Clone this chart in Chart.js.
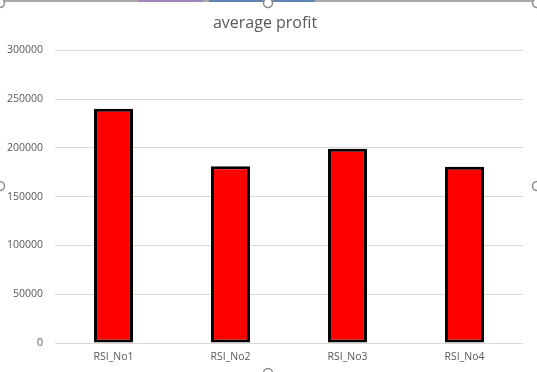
<!DOCTYPE html>
<html>
<head>
<meta charset="utf-8">
<script src="https://cdn.jsdelivr.net/npm/chart.js@4/dist/chart.umd.min.js"></script>
<style>
  html, body { margin: 0; padding: 0; background: #fff; }
  #wrap { width: 537px; height: 372px; position: relative; }
</style>
</head>
<body>
<div id="wrap"><canvas id="chart" width="537" height="372"></canvas></div>
<script>
"use strict";
const categories = ["RSI_No1", "RSI_No2", "RSI_No3", "RSI_No4"];
const profitValues = [240000, 181000, 199000, 180500];
const yTicks = [0, 50000, 100000, 150000, 200000, 250000, 300000];

// excel selection frame (grey top edge + handles)
const framePlugin = {
    id: "frame",
    afterDraw(chart) {
        const ctx = chart.ctx;
        const w = chart.width, h = chart.height;
        ctx.save();
        ctx.strokeStyle = "#8c8c8c";
        ctx.lineWidth = 1.5;
        ctx.beginPath();
        ctx.moveTo(0, 1);
        ctx.lineTo(w, 1);
        ctx.stroke();
        ctx.strokeStyle = "#9e7bbf";
        ctx.beginPath();
        ctx.moveTo(138, 1);
        ctx.lineTo(203, 1);
        ctx.stroke();
        ctx.strokeStyle = "#4a78b0";
        ctx.beginPath();
        ctx.moveTo(209, 1);
        ctx.lineTo(315, 1);
        ctx.stroke();
        ctx.strokeStyle = "#8c8c8c";
        ctx.fillStyle = "#fff";
        [[268, 3], [0, 3], [w, 3], [0, 186], [w, 186], [268, h + 1]].forEach(([x, y]) => {
            ctx.beginPath();
            ctx.arc(x, y, 4.5, 0, Math.PI * 2);
            ctx.fill();
            ctx.stroke();
        });
        ctx.restore();
    }
};

new Chart(document.getElementById("chart").getContext("2d"), {
    type: "bar",
    data: {
        labels: categories,
        datasets: [
            {
                label: "average profit",
                data: profitValues,
                backgroundColor: "#ff0000",
                borderColor: "#000000",
                borderWidth: 3,
                borderSkipped: false,
                categoryPercentage: 0.333,
                barPercentage: 1,
            },
        ],
    },
    options: {
        responsive: false,
        animation: false,
        layout: { padding: { top: 14, left: 7, right: 14, bottom: 0 } },
        plugins: {
            legend: { display: false },
            tooltip: { enabled: false },
            title: {
                display: true,
                text: "average profit",
                color: "#595959",
                font: { family: "'Open Sans'", size: 16, weight: "normal" },
                padding: { top: 0, bottom: 17 },
            },
        },
        scales: {
            x: {
                grid: { display: false, drawTicks: false },
                border: { display: false },
                ticks: {
                    color: "#595959",
                    font: { family: "'Open Sans'", size: 10.5 },
                    padding: 8,
                    maxRotation: 0,
                },
                afterFit: (axis) => { axis.height = 29; },
            },
            y: {
                min: 0,
                max: 300000,
                afterBuildTicks: (axis) => { axis.ticks = yTicks.map((v) => ({ value: v })); },
                grid: { color: "#d9d9d9", drawTicks: false },
                border: { display: false },
                ticks: {
                    color: "#595959",
                    font: { family: "'Open Sans'", size: 10.5 },
                    padding: 12,
                    callback: (v) => String(v),
                },
                afterFit: (axis) => { axis.width = 48; },
            },
        },
    },
    plugins: [framePlugin],
});
</script>
</body>
</html>
